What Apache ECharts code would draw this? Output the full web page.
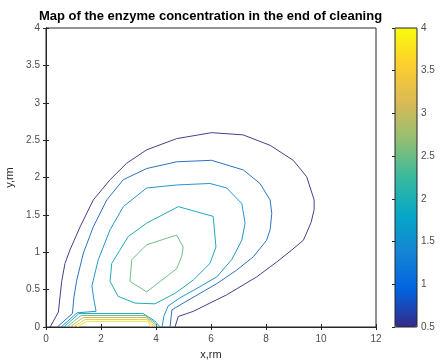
<!DOCTYPE html>
<html>
<head>
<meta charset="utf-8">
<script src="https://cdn.jsdelivr.net/npm/echarts@6/dist/echarts.min.js"></script>
<style>
  html, body { margin: 0; padding: 0; background: #fff; }
  #chart { width: 441px; height: 364px; }
</style>
</head>
<body>
<div id="chart"></div>
<script>
// contour levels and the lines (x, y in rm)
var levels = [0.5, 1.0, 1.5, 2.0, 2.5, 3.0, 3.5, 4.0];

var line05 = [[0.15,0],[0.45,0.2],[0.57,0.61],[0.69,0.85],[0.87,1.03],[1.24,1.34],[1.72,1.70],[2.33,1.97],
  [2.93,2.19],[3.66,2.37],[4.75,2.52],[6.02,2.60],[7.17,2.57],[8.15,2.43],[8.99,2.23],[9.48,2.01],
  [9.75,1.70],[9.75,1.57],[9.64,1.40],[9.36,1.16],[8.87,1.01],[8.39,0.87],[7.66,0.67],[6.57,0.43],
  [5.96,0.32],[5.36,0.21],[4.81,0.14],[4.69,0]];
var line10 = [[0.41,0],[0.96,0.18],[1.02,0.41],[1.12,0.63],[1.36,0.99],[1.72,1.34],[2.21,1.70],[2.81,1.97],
  [3.66,2.12],[4.75,2.21],[6.02,2.23],[7.18,2.10],[7.78,1.92],[8.15,1.70],[8.21,1.52],[8.15,1.30],
  [8.02,1.16],[7.54,0.94],[6.93,0.76],[6.21,0.58],[5.60,0.45],[4.99,0.32],[4.58,0.23],[4.51,0]];
var line15 = [[0.55,0],[1.13,0.19],[1.82,0.21],[1.73,0.39],[1.67,0.55],[1.90,0.90],[2.33,1.30],[2.81,1.61],
  [3.66,1.86],[4.75,1.90],[5.96,1.92],[6.57,1.86],[7.12,1.65],[7.24,1.39],[7.12,1.16],[6.75,0.90],
  [6.21,0.67],[5.60,0.54],[4.87,0.39],[4.44,0.28],[4.29,0.15],[4.22,0]];
var line20a = [[4.81,1.61],[6.08,1.48],[6.18,1.07],[5.96,0.85],[5.36,0.63],[4.69,0.45],[3.96,0.31],
  [3.24,0.32],[2.62,0.41],[2.33,0.61],[2.39,0.85],[2.99,1.21],[3.66,1.39],[4.81,1.61]];
var line20b = [[0.65,0],[1.20,0.18],[3.53,0.18],[3.96,0.08],[4.15,0]];
var line25a = [[3.66,1.10],[4.75,1.23],[4.99,1.07],[4.93,0.94],[4.75,0.78],[3.66,0.47],[3.05,0.61],
  [3.12,0.90],[3.66,1.10]];
var line25b = [[0.76,0],[1.27,0.154],[3.60,0.154],[3.93,0.067],[4.07,0]];
var line30 = [[0.87,0],[1.35,0.127],[3.64,0.127],[3.89,0.054],[4.00,0]];
var line35 = [[0.98,0],[1.42,0.10],[3.67,0.10],[3.85,0.04],[3.93,0]];
var line40 = [[1.13,0],[1.49,0.074],[3.71,0.074],[3.82,0]];

var contourLines = [
  { level: 0.5, data: line05 },
  { level: 1.0, data: line10 },
  { level: 1.5, data: line15 },
  { level: 2.0, data: line20a },
  { level: 2.0, data: line20b },
  { level: 2.5, data: line25a },
  { level: 2.5, data: line25b },
  { level: 3.0, data: line30 },
  { level: 3.5, data: line35 },
  { level: 4.0, data: line40 }
];

// parula colours
var parula = ['#352a87','#0363e1','#1485d4','#06a7c6','#38b99e','#92bf73','#d9ba56','#fcce2e','#f9fb0e'];
var levelColors = ['#46408c','#2f72c2','#2795cf','#22abbd','#72bd8a','#bcbf66','#f2c948','#efe63a'];

var cMin = 0.5, cMax = 4;

var chart = echarts.init(document.getElementById('chart'));

var axisText = { color: '#4d4d4d', fontSize: 10, fontFamily: 'Liberation Sans' };
var axisLineStyle = { color: '#262626', width: 1 };

var series = contourLines.map(function(c) {
  return {
    type: 'line',
    xAxisIndex: 0,
    yAxisIndex: 0,
    data: c.data,
    showSymbol: false,
    symbol: 'none',
    silent: true,
    lineStyle: { color: levelColors[levels.indexOf(c.level)], width: 1 }
  };
});
// empty series on the colour bar grid, target of the visualMap
series.push({ type: 'scatter', xAxisIndex: 2, yAxisIndex: 2, data: [] });

var option = {
  animation: false,
  backgroundColor: '#fff',
  title: {
    text: 'Map of the enzyme concentration in the end of cleaning',
    left: 34,
    top: 5,
    textStyle: { fontSize: 13, fontWeight: 'bold', color: '#000', fontFamily: 'Liberation Sans' }
  },
  grid: [
    { left: 46, top: 28, width: 330, height: 299, show: true, borderColor: '#262626', borderWidth: 1,
      backgroundColor: '#fff', outerBoundsMode: 'none' },
    { left: 395, top: 28, width: 22, height: 299, show: true, borderColor: '#262626', borderWidth: 1,
      backgroundColor: 'transparent', z: 10, outerBoundsMode: 'none' }
  ],
  xAxis: [
    {
      gridIndex: 0, type: 'value', min: 0, max: 12, interval: 2,
      name: 'x,rm', nameLocation: 'middle', nameGap: 22,
      nameTextStyle: { color: '#262626', fontSize: 11, fontFamily: 'Liberation Sans' },
      axisLine: { show: true, lineStyle: axisLineStyle },
      axisTick: { inside: true, length: 3, lineStyle: axisLineStyle },
      axisLabel: Object.assign({ margin: 7 }, axisText),
      splitLine: { show: false }
    },
    {
      gridIndex: 0, type: 'value', min: 0, max: 12, interval: 2, position: 'top',
      axisLine: { show: true, lineStyle: axisLineStyle },
      axisTick: { inside: true, length: 3, lineStyle: axisLineStyle },
      axisLabel: { show: false },
      splitLine: { show: false }
    },
    { gridIndex: 1, type: 'value', min: 0, max: 1, show: false }
  ],
  yAxis: [
    {
      gridIndex: 0, type: 'value', min: 0, max: 4, interval: 0.5,
      name: 'y,rm', nameLocation: 'middle', nameGap: 25,
      nameTextStyle: { color: '#262626', fontSize: 11, fontFamily: 'Liberation Sans' },
      axisLine: { show: true, lineStyle: axisLineStyle },
      axisTick: { inside: true, length: 3, lineStyle: axisLineStyle },
      axisLabel: Object.assign({ margin: 6 }, axisText),
      splitLine: { show: false }
    },
    {
      gridIndex: 0, type: 'value', min: 0, max: 4, interval: 0.5, position: 'right',
      axisLine: { show: true, lineStyle: axisLineStyle },
      axisTick: { inside: true, length: 3, lineStyle: axisLineStyle },
      axisLabel: { show: false },
      splitLine: { show: false }
    },
    {
      gridIndex: 1, type: 'value', min: cMin, max: cMax, interval: 0.5, position: 'right',
      z: 11,
      axisLine: { show: false },
      axisTick: { inside: true, length: 3, lineStyle: axisLineStyle },
      axisLabel: Object.assign({ margin: 4 }, axisText),
      splitLine: { show: false }
    }
  ],
  visualMap: {
    type: 'continuous',
    min: cMin,
    max: cMax,
    seriesIndex: series.length - 1,
    inRange: { color: parula },
    left: 395,
    top: 28,
    padding: 0,
    itemWidth: 22,
    itemHeight: 299,
    calculable: false,
    text: null
  },
  series: series
};

chart.setOption(option);
</script>
</body>
</html>
